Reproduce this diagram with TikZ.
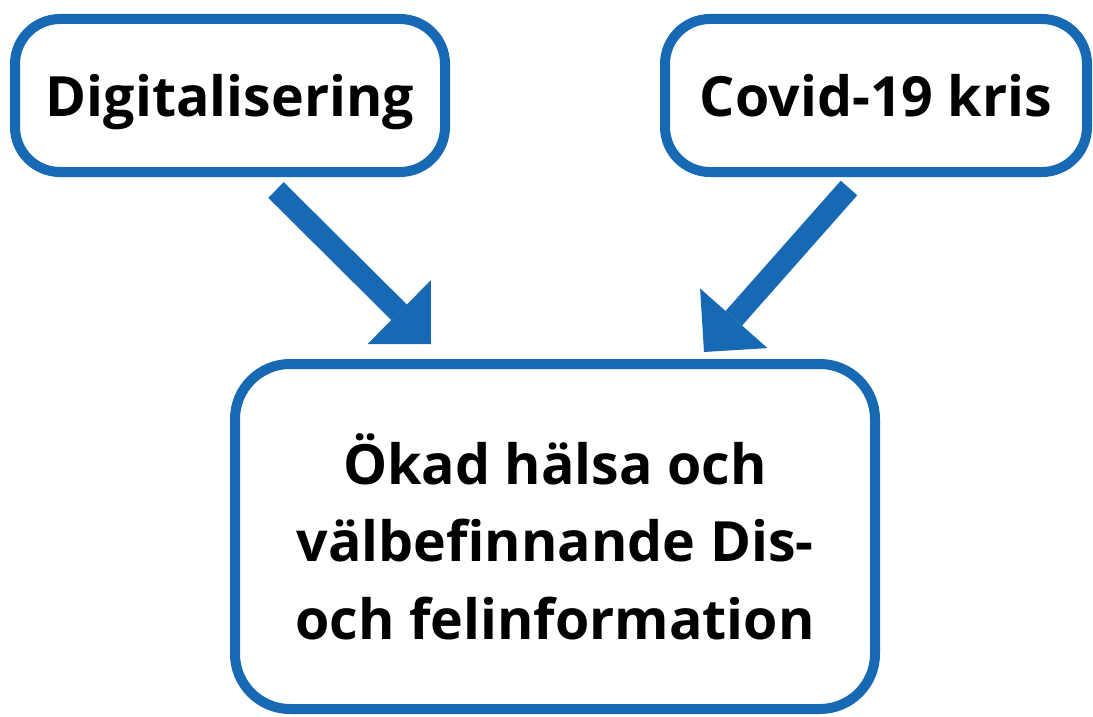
\documentclass[tikz,border=0pt]{standalone}
\usepackage{fontspec}
\setmainfont{Open Sans}
\usepackage{tikz}
\usetikzlibrary{positioning,arrows.meta}
\definecolor{boxblue}{HTML}{1769B3}
\tikzset{
  cause/.style   = {draw=boxblue, line width=10pt, fill=white, rounded corners=45pt,
                    minimum height=153pt, align=center, inner sep=0pt,
                    text height=41pt, text depth=0pt,
                    font=\fontsize{55.5}{77}\selectfont\bfseries},
  outcome/.style = {draw=boxblue, line width=10pt, fill=white, rounded corners=55pt,
                    minimum width=640pt, minimum height=345pt, align=center, inner sep=0pt,
                    font=\fontsize{55.5}{77.5}\selectfont\bfseries},
  push/.style    = {-{Triangle[length=45pt, width=90pt, line width=0pt]}, draw=boxblue,
                    line width=22pt},
}

\begin{document}
\begin{tikzpicture}[x=1pt, y=-1pt]
  \useasboundingbox (0,0) rectangle (1093,717);

  \node[cause, minimum width=430pt] (dig) at (230,95.5) {Digitalisering};
  \node[cause, minimum width=422pt] (cov) at (876,95.5) {Covid-19 kris};
  \node[outcome] (out) at (555,536.5)
       {Ökad hälsa och\\ välbefinnande Dis-\\ och felinformation};

  \coordinate (digtail) at (276,190);  \coordinate (digtip) at (431,344);
  \coordinate (covtail) at (849,188);  \coordinate (covtip) at (704,352);

  \draw[push] (digtail) -- (digtip); \draw[push] (covtail) -- (covtip);
\end{tikzpicture}
\end{document}
